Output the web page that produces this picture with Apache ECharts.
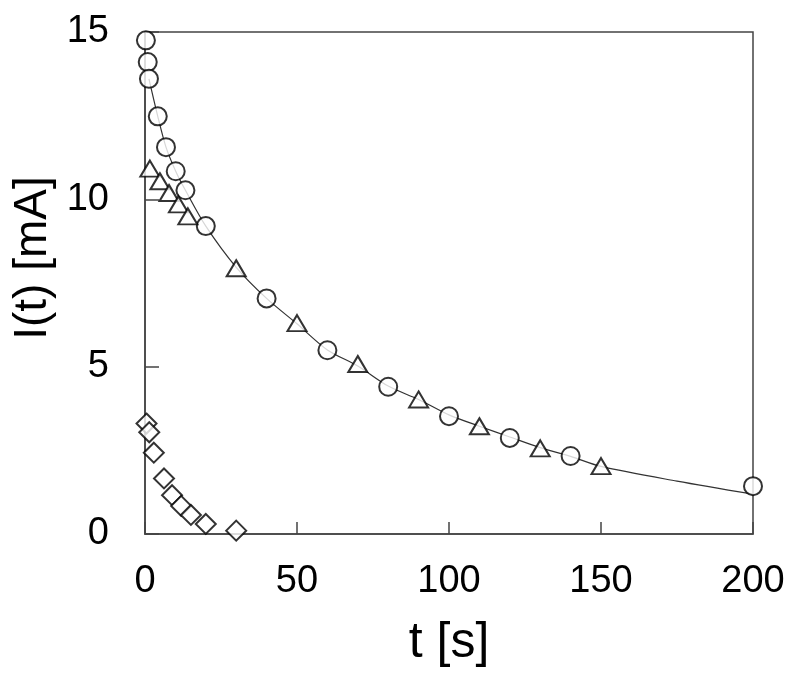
<!DOCTYPE html>
<html>
<head>
<meta charset="utf-8">
<script src="https://cdn.jsdelivr.net/npm/echarts@6/dist/echarts.min.js"></script>
<style>
  html, body { margin: 0; padding: 0; background: #fff; }
  #chart { width: 800px; height: 683px; }
</style>
</head>
<body>
<div id="chart"></div>
<script>
// circles: [t, I]
var circleData = [[0.3, 14.75], [0.9, 14.1], [1.3, 13.6], [4.2, 12.48], [6.9, 11.56], [10.1, 10.84],
  [13.3, 10.27], [20, 9.2], [40, 7.04], [60, 5.49], [80, 4.4], [100, 3.52], [120, 2.87],
  [140, 2.33], [200, 1.43]]
// triangles
var triangleData = [[1.6, 10.92], [4.9, 10.54], [7.9, 10.19], [11, 9.85], [14.1, 9.49], [30, 7.94],
  [50, 6.3], [70, 5.08], [90, 4.02], [110, 3.22], [130, 2.56], [150, 2.03]]
// diamonds
var diamondData = [[0.5, 3.3], [1.4, 3.04], [2.9, 2.43], [6.25, 1.66], [8.9, 1.16], [11.9, 0.84],
  [15.1, 0.57], [20, 0.3], [30, 0.1]]
// fitted curve
var fitData = [[1.3, 13.6], [4.2, 12.48], [6.9, 11.56], [10.1, 10.84], [13.3, 10.27], [20, 9.2],
  [30, 7.97], [40, 7.04], [50, 6.28], [60, 5.5], [70, 5.02], [80, 4.42], [90, 4.02], [100, 3.56],
  [110, 3.22], [120, 2.9], [130, 2.58], [140, 2.32], [150, 2.02], [175, 1.58], [200, 1.19]]

var xTicks = [0, 50, 100, 150, 200]
var yTicks = [0, 5, 10, 15]

var chartDom = document.getElementById('chart')
var myChart = echarts.init(chartDom)

var fontFam = 'Liberation Sans, Arial, sans-serif'
var markerStyle = { color: '#fff', borderColor: '#000', borderWidth: 2 }

var option = {
  animation: false,
  backgroundColor: '#fff',
  grid: {
    left: 145, right: 47, top: 32, bottom: 149,
    show: true, borderColor: '#444', borderWidth: 1.5, backgroundColor: 'transparent'
  },
  xAxis: {
    type: 'value',
    min: xTicks[0], max: xTicks[xTicks.length - 1], interval: 50,
    name: 't [s]', nameLocation: 'middle', nameGap: 84,
    nameTextStyle: { fontSize: 50, color: '#000', fontFamily: fontFam },
    axisLine: { lineStyle: { color: '#444', width: 1.5 } },
    axisTick: { inside: true, length: 12, lineStyle: { color: '#444', width: 1.5 } },
    axisLabel: { fontSize: 38, color: '#000', fontFamily: fontFam, margin: 29 },
    splitLine: { show: false }
  },
  yAxis: {
    type: 'value',
    min: yTicks[0], max: yTicks[yTicks.length - 1], interval: 5,
    name: 'I(t) [mA]', nameLocation: 'middle', nameGap: 89,
    nameTextStyle: { fontSize: 46, color: '#000', fontFamily: fontFam, padding: [0, 0, 0, 50] },
    axisLine: { lineStyle: { color: '#444', width: 1.5 } },
    axisTick: { inside: true, length: 14, lineStyle: { color: '#444', width: 1.5 } },
    axisLabel: { fontSize: 38, color: '#000', fontFamily: fontFam, margin: 36 },
    splitLine: { show: false }
  },
  series: [
    {
      name: 'fit',
      type: 'line',
      data: fitData,
      smooth: 0.3,
      showSymbol: false,
      lineStyle: { color: '#333', width: 1.2 },
      z: 1
    },
    {
      name: 'circle',
      type: 'scatter',
      data: circleData,
      symbol: 'circle',
      symbolSize: 18,
      itemStyle: markerStyle,
      z: 3
    },
    {
      name: 'triangle',
      type: 'scatter',
      data: triangleData,
      symbol: 'triangle',
      symbolSize: [19, 16],
      itemStyle: markerStyle,
      z: 3
    },
    {
      name: 'diamond',
      type: 'scatter',
      data: diamondData,
      symbol: 'diamond',
      symbolSize: [20, 20],
      itemStyle: markerStyle,
      z: 3
    }
  ]
}
option && myChart.setOption(option)
</script>
</body>
</html>
